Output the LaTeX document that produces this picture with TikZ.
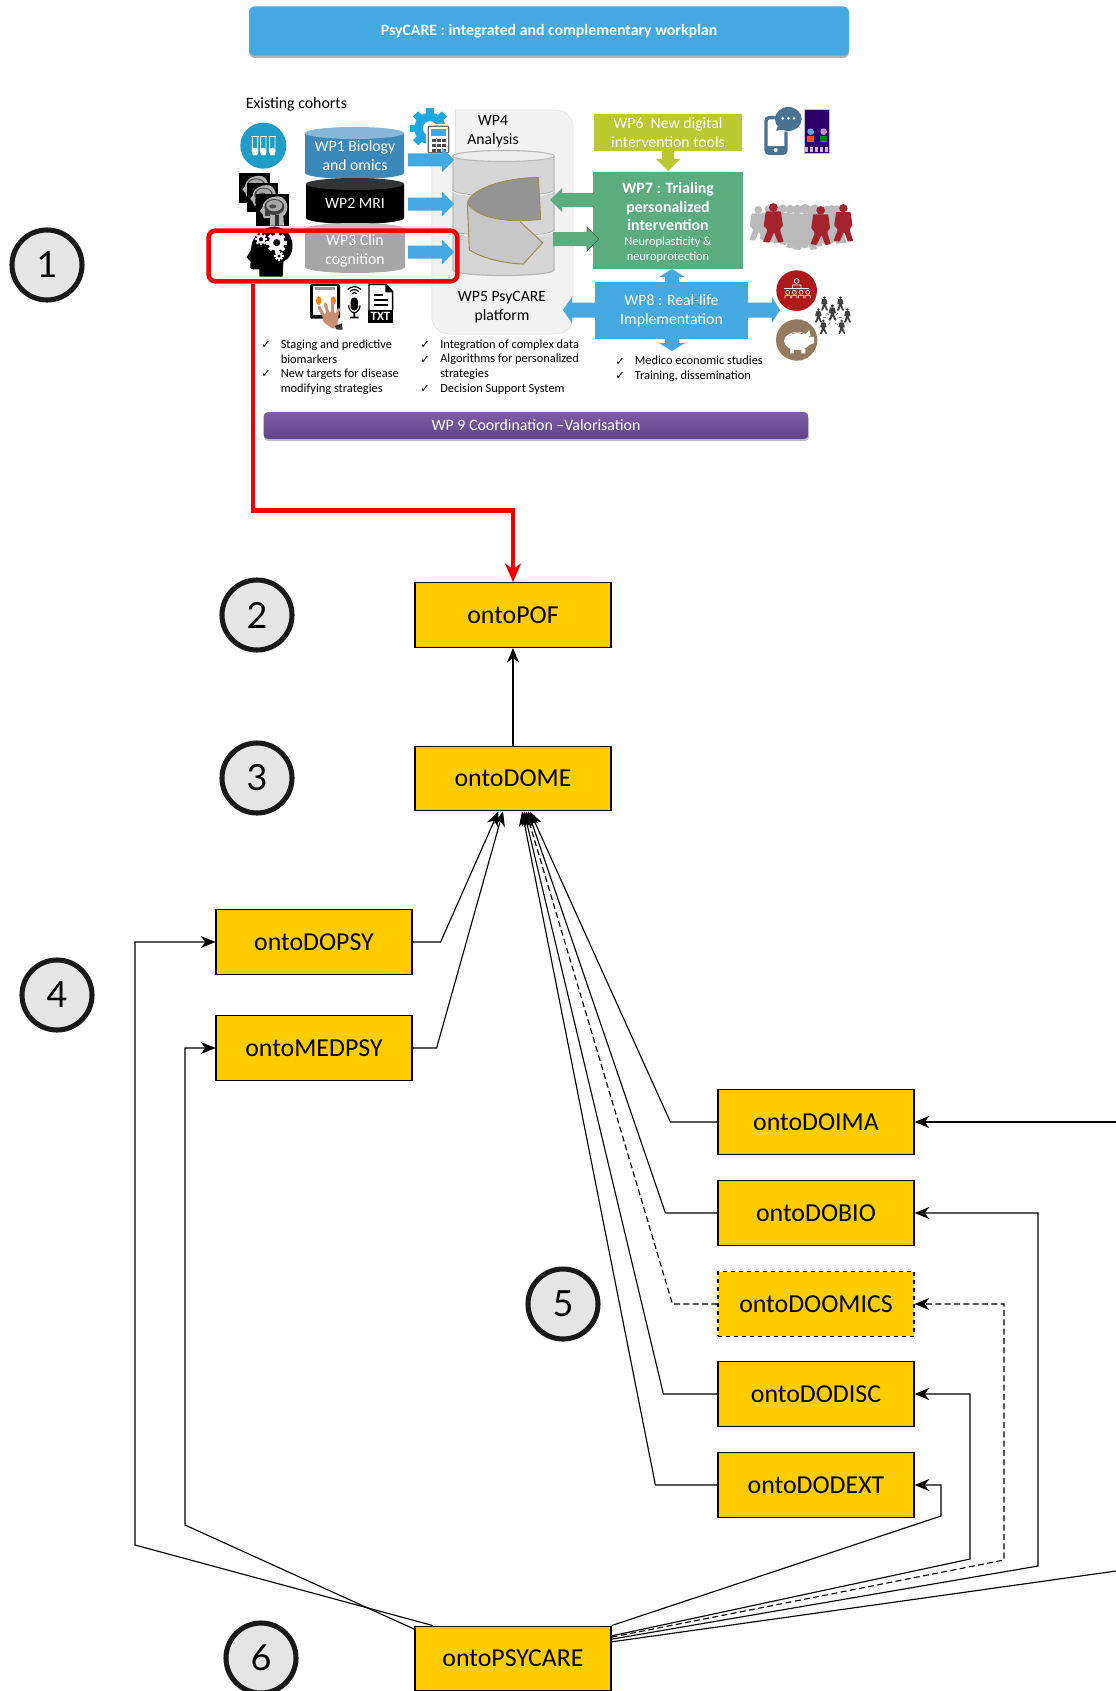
\documentclass[tikz,border=0pt]{standalone}
\usepackage{fontspec}
\setmainfont{Carlito}
\newfontfamily\dejavu{DejaVu Sans}
\newfontfamily\numfont{Lato}
\usetikzlibrary{arrows.meta,calc}
\definecolor{wpblue}{HTML}{43A9E0}
\definecolor{gearblue}{HTML}{1EA7E1}
\definecolor{wpgreen}{HTML}{5BAD80}
\definecolor{wpolive}{HTML}{B9C92F}
\definecolor{ontoyellow}{HTML}{FFCC00}
\definecolor{platgrey}{HTML}{F2F2F2}
\definecolor{olive}{HTML}{9C9155}
\definecolor{iconblue}{HTML}{4A7391}
\definecolor{tubeblue}{HTML}{1E9DC8}
\definecolor{wine}{HTML}{A5222F}
\definecolor{skin}{HTML}{C98F72}
\definecolor{purpletop}{HTML}{7F5CA6}
\definecolor{purplebot}{HTML}{5F4488}
\definecolor{cylbody}{HTML}{3C88BA}
\definecolor{cyltop}{HTML}{85B8D8}
\tikzset{
 ontobox/.style={draw=black,line width=0.9pt,fill=ontoyellow,minimum width=147pt,minimum height=48.5pt,inner sep=0pt,font=\fontsize{19.4}{22}\selectfont},
 link/.style={draw=black,line width=0.85pt,-{Stealth[length=11pt,width=9pt]}},
 dashlink/.style={link,dash pattern=on 4.5pt off 2.5pt},
 circnum/.style={circle,draw=black!90,line width=3.8pt,fill=black!10,minimum size=52.5pt,inner sep=0pt,font=\numfont\fontsize{27}{29}\selectfont},
 cyltext/.style={text=white,align=center,font=\fontsize{11.8}{14.2}\selectfont},
 plain/.style={text=black,align=center,font=\fontsize{11.8}{14.2}\selectfont},
 wptext/.style={text=white,align=center,font=\fontsize{11.8}{14.2}\selectfont},
 bullet/.style={anchor=north west,align=left,inner sep=0pt,font=\fontsize{9.3}{11}\selectfont},
 checkm/.style={anchor=center,inner sep=0pt,font=\dejavu\fontsize{8.5}{10}\selectfont},
 zoomA/.style={shift={(200,80)},scale=1/3},
 zoomB/.style={shift={(560,80)},scale=1/3},
}
\newcommand{\harrow}[7]{\fill[#7] (#1,#2-#5)--(#4,#2-#5)--(#4,#2-#6)--(#3,#2)--(#4,#2+#6)--(#4,#2+#5)--(#1,#2+#5)--cycle;}
\newcommand{\varrow}[7]{\fill[#7] (#1-#5,#2)--(#1-#5,#4)--(#1-#6,#4)--(#1,#3)--(#1+#6,#4)--(#1+#5,#4)--(#1+#5,#2)--cycle;}
\newcommand{\cyl}[7]{\fill[#6] (#1,#3) -- (#1,#4) arc[start angle=180,end angle=0,x radius={(#2-#1)/2},y radius=#5] -- (#2,#3) -- cycle;
 \fill[#7] ({(#1+#2)/2},#3) ellipse[x radius={(#2-#1)/2},y radius=#5];}
\newcommand{\gearicon}[5]{\begin{scope}[shift={(#1,#2)},scale=#3]
 \foreach \a in {0,45,...,315}{\fill[#4,rotate=\a] (-0.24,0.7) rectangle (0.24,1.3);}
 \fill[#4] (0,0) circle[radius=1];
 \fill[#5] (0,0) circle[radius=0.45];\end{scope}}
\newcommand{\person}[4]{\begin{scope}[shift={(#1,#2)},scale=#3/100]
 \fill[#4] (0,-89) circle[radius=9.5];
 \fill[#4,rounded corners=0.5pt] (-14,-79)--(14,-79)--(22,-45)--(16,-42)--(12,-52)--(11,-35)--(26,-2)--(14,0)--(1,-28)--(-10,0)--(-24,-2)--(-10,-35)--(-12,-52)--(-16,-42)--(-22,-45)--cycle;\end{scope}}
\newcommand{\walker}[4]{\begin{scope}[shift={(#1,#2)},scale=#3/100]
 \fill[#4] (0,-88) circle[radius=11];
 \fill[#4,rounded corners=0.6pt] (-19,-78)--(19,-78)--(24,-42)--(18,-36)--(17,-30)--(26,-2)--(12,0)--(2,-26)--(-10,0)--(-26,-2)--(-15,-30)--(-18,-36)--(-24,-42)--cycle;\end{scope}}
\newcommand{\mriicon}[3]{\begin{scope}[shift={(#1,#2)},scale=#3]
 \fill[black] (0,0) rectangle (100,96);
 \fill[black!30] (42,96)--(42,72)--(24,74)--(20,62)--(11,52)--(19,42) .. controls (22,12) and (60,4) .. (76,10) .. controls (100,22) and (98,56) .. (82,66) -- (84,96) -- cycle;
 \fill[black!75] (55,40) ellipse[x radius=30,y radius=24];
 \fill[black!35] (55,36) ellipse[x radius=24,y radius=17];
 \fill[black!70] (50,38) ellipse[x radius=11,y radius=6];
 \fill[black!80] (56,64) rectangle (68,96);
 \fill[black!75] (26,52) rectangle (42,68);\end{scope}}
\begin{document}
\begin{tikzpicture}[x=0.75pt,y=-0.75pt]
\useasboundingbox (0,0) rectangle (1116,1691);
\fill[white] (0,0) rectangle (1116,1691);
% banner
\fill[black!30,rounded corners=4.5pt] (249,8) rectangle (849,58);
\node[fill=wpblue,rounded corners=4.5pt,minimum width=450pt,minimum height=37pt,inner sep=0pt,text=white,font=\bfseries\fontsize{11.85}{13}\selectfont] (banner) at (549,31) {PsyCARE : integrated and complementary workplan};
% platform
\node[fill=platgrey,draw=black!12,rounded corners=13pt,minimum width=106pt,minimum height=168pt,inner sep=0pt] (platform) at (502.5,222) {};
\fill[white] (425,105) rectangle (455,158);
\draw[black!12,line width=0.4pt] (455,110) -- (455,158);
\node[plain] (wp4) at (493,131) {WP4\\Analysis};
\node[plain] (wp5) at (502,307) {WP5 PsyCARE\\platform};
% big cylinder
\cyl{453}{554}{156}{270}{5.5}{black!16}{black!7}
\draw[black!28,line width=0.9pt] (453,156) -- (453,270) arc[start angle=180,end angle=0,x radius=50.5,y radius=5.5] -- (554,156);
\draw[black!28,line width=0.8pt] ({(453+554)/2},156) ellipse[x radius=50.5,y radius=5.5];
\draw[white,line width=0.8pt] (453,191) arc[start angle=180,end angle=0,x radius=50.5,y radius=6];
\draw[black!30,line width=0.6pt] (453,190) arc[start angle=180,end angle=0,x radius=50.5,y radius=6];
\draw[white,line width=0.8pt] (453,231) arc[start angle=180,end angle=0,x radius=50.5,y radius=6];
\draw[black!30,line width=0.6pt] (453,230) arc[start angle=180,end angle=0,x radius=50.5,y radius=6];
% pie
\begin{scope}[zoomA]
\fill[black!22] (802,370) .. controls (840,420) and (930,425) .. (960,425) -- (1028,488) -- (970,552) .. controls (900,550) and (840,530) .. (808,510) -- cycle;
\draw[olive,line width=0.8pt] (802,370) -- (808,510) .. controls (840,530) and (900,550) .. (970,552) -- (1028,488) -- (960,425);
\fill[black!42] (802,370) .. controls (810,330) and (900,295) .. (1015,292) -- (1022,418) .. controls (930,428) and (840,420) .. (802,370) -- cycle;
\draw[olive,line width=0.8pt] (802,370) .. controls (810,330) and (900,295) .. (1015,292) -- (1022,418) .. controls (930,428) and (840,420) .. (802,370) -- cycle;
\end{scope}
% gear + calculator
\begin{scope}[zoomA]
\gearicon{690}{145}{47}{gearblue}{white}
\fill[white] (678,132) rectangle (753,224);
\fill[black!60,rounded corners=1pt] (683,137) rectangle (748,220);
\fill[white] (687,141) rectangle (744,216);
\fill[wpblue] (693,147) rectangle (738,168);
\foreach \u in {697,712,727}{\foreach \v in {178,192,206}{\fill[black!70] (\u,\v) rectangle +(10,9);}}
\end{scope}
% cylinders
\cyl{305}{404}{133}{173}{6}{cylbody}{cyltop}
\cyl{306}{404}{184}{218}{6}{black}{black!80}
\cyl{305}{405}{229}{267}{6}{black!35}{black!25}
\node[cyltext] (wp1) at (355,156) {WP1 Biology\\and omics};
\node[cyltext] (wp2) at (355,203) {WP2 MRI};
\node[cyltext] (wp3) at (355,250.5) {WP3 Clin\\cognition};
% blue inward arrows
\harrow{408}{160}{454}{442}{6.5}{12}{wpblue}
\harrow{408}{204}{454}{442}{6.5}{12}{wpblue}
\harrow{408}{252}{454}{442}{6.5}{12}{wpblue}
\node[anchor=west,inner sep=0pt,font=\fontsize{11.9}{13}\selectfont] (cohorts) at (245.5,104) {Existing cohorts};
% left icons
\begin{scope}[zoomA]
\fill[tubeblue] (190,197) circle[radius=69];
\foreach \u in {165,190,217}{
 \fill[white,rounded corners=2pt] (\u-8,203) -- (\u-8,225) -- (\u+8,225) -- (\u+8,203) -- cycle;
 \draw[white,line width=0.7pt,rounded corners=2pt] (\u-8,170) -- (\u-8,225) -- (\u+8,225) -- (\u+8,170);
 \draw[white,line width=0.8pt] (\u-11,170) -- (\u+11,170);}
\mriicon{117}{280}{0.93}
\mriicon{140}{308}{0.93}
\mriicon{168}{341}{1}
\fill[black] (178,590) -- (178,568) -- (160,568) .. controls (150,566) .. (152,545) -- (140,532) -- (153,510) .. controls (155,450) and (210,440) .. (225,440) .. controls (290,445) and (290,530) .. (250,545) -- (248,590) -- cycle;
\gearicon{183}{478}{14}{white}{black}
\gearicon{230}{488}{24}{white}{black}
\gearicon{237}{528}{11}{white}{black}
% tablet
\fill[black,rounded corners=1pt] (330,612) rectangle (420,716);
\fill[white] (338,618) rectangle (412,705);
\fill[black!40] (345,622) rectangle (405,630);
\fill[orange] (356,662) ellipse[x radius=8,y radius=13];
\fill[orange] (400,662) ellipse[x radius=8,y radius=13];
\fill[skin] (392,716) ellipse[x radius=24,y radius=21];
\draw[skin,line width=2.3pt,line cap=round] (375,715)--(357,682) (385,705)--(376,672) (398,705)--(397,668) (409,712)--(416,688);
\fill[skin] (372,725)--(412,722)--(415,745)--(395,745)--cycle;
\fill[black!80] (405,738)--(425,730)--(428,749)--(410,749)--cycle;
% microphone
\foreach \r in {10,19,28}{\draw[black,line width=0.9pt] (463,648) ++(-135:\r) arc[start angle=-135,end angle=-45,radius=\r];}
\fill[black,rounded corners=3pt] (452,652) rectangle (474,692);
\draw[black,line width=0.9pt] (446,676) arc[start angle=180,end angle=0,x radius=17,y radius=22];
\fill[black] (460,698) rectangle (466,712) (450,710) rectangle (476,715);
% TXT
\draw[black,line width=1.1pt] (507,690) -- (507,613) -- (558,613) -- (578,635) -- (578,690);
\fill[black] (556,613) -- (556,637) -- (578,637) -- cycle;
\draw[black,line width=1.1pt] (522,645) -- (550,645) (522,660) -- (563,660) (522,675) -- (563,675);
\fill[black] (505,690) rectangle (580,728);
\end{scope}
\node[text=white,inner sep=0pt,font=\bfseries\fontsize{9.5}{10}\selectfont] (txt) at (380.5,316) {TXT};
% bullets
\node[checkm] (c1) at (266,345) {✓};
\node[bullet] (b1) at (280.5,339.5) {Staging and predictive\\biomarkers};
\node[checkm] (c2) at (266,374) {✓};
\node[bullet] (b2) at (280.5,369) {New targets for disease\\modifying strategies};
\node[checkm] (c3) at (425,345) {✓};
\node[bullet] (b3) at (440,339.5) {Integration of complex data};
\node[checkm] (c4) at (425,359.5) {✓};
\node[bullet] (b4) at (440,354) {Algorithms for personalized\\strategies};
\node[checkm] (c5) at (425,389) {✓};
\node[bullet] (b5) at (440,384) {Decision Support System};
\node[checkm] (c6) at (620,361.5) {✓};
\node[bullet] (b6) at (634.5,356) {Medico economic studies};
\node[checkm] (c7) at (620,375.5) {✓};
\node[bullet] (b7) at (634.5,370.5) {Training, dissemination};
% WP6
\node[fill=wpolive,minimum width=111pt,minimum height=28pt,inner sep=0pt,wptext] (wp6) at (668,132.5) {WP6\ \ New digital\\intervention tools};
\varrow{668}{151}{171}{159}{6}{12}{wpolive}
% WP7
\node[fill=wpgreen,minimum width=112.5pt,minimum height=73pt,inner sep=0pt] (wp7) at (668,220.5) {};
\node[text=white,align=center,font=\bfseries\fontsize{11.9}{14.2}\selectfont] (wp7t) at (668,206.5) {WP7 : Trialing\\personalized\\intervention};
\node[text=white,align=center,font=\fontsize{9.3}{11}\selectfont] (wp7s) at (668,250) {Neuroplasticity \&\\neuroprotection};
\harrow{593}{200}{550}{562}{7}{12}{wpgreen}
\fill[wpgreen] (553,232) -- (587,232) -- (587,227) -- (599,239) -- (587,251) -- (587,246) -- (553,246) -- cycle;
\draw[black!40!wpgreen,line width=0.4pt] (587,232) -- (587,227) -- (599,239) -- (587,251) -- (587,246);
% WP8
\varrow{672}{285}{269}{277}{7}{13}{wpblue}
\varrow{672}{335}{351}{343}{7}{13}{wpblue}
\harrow{600}{310}{563}{572}{7.5}{13}{wpblue}
\harrow{745}{310}{780}{772}{7.5}{13}{wpblue}
\node[fill=wpblue,minimum width=115pt,minimum height=43pt,inner sep=0pt,wptext] (wp8) at (671.5,310.5) {WP8 : Real-life\\Implementation};
% WP9
\fill[black!25,rounded corners=3pt] (264,415) rectangle (809,441);
\node[top color=purpletop,bottom color=purplebot,rounded corners=3pt,minimum width=408.5pt,minimum height=20pt,inner sep=0pt,text=white,font=\fontsize{11.9}{13}\selectfont] (wp9) at (536,425.5) {WP 9 Coordination –Valorisation};
% right icons
\begin{scope}[zoomB]
\draw[iconblue,line width=2.6pt,rounded corners=2.5pt] (648,113) -- (618,113) -- (618,220) -- (678,220) -- (678,155);
\fill[iconblue] (618,198) rectangle (678,222);
\fill[white] (647,210) circle[radius=6];
\fill[iconblue] (685,117) ellipse[x radius=40,y radius=36];
\fill[iconblue] (655,135) -- (648,152) -- (680,148) -- cycle;
\foreach \u in {668,685,702}{\fill[white] (\u,115) circle[radius=4.5];}
\fill[black!25] (732,87) rectangle (809,223);
\fill[black!55!violet!75!blue] (735,90) rectangle (806,220);
\fill[cyan!60!blue!60!white] (752,155) circle[radius=10];
\fill[orange!60!red] (742,168) rectangle (762,186);
\fill[violet!45!white] (791,155) circle[radius=10];
\fill[green!50!black] (781,168) rectangle (801,186);
\foreach \u in {740,755,770,785,800}{\fill[white!70!violet] (\u-4,202) rectangle (\u+4,216);}
% crowd
\foreach \u/\v/\h in {595/482/105,625/480/105,648/487/112,668/490/118,690/495/122,712/505/132,735/510/140,755/500/125,765/490/118,800/488/112,815/492/118,830/490/115}{\walker{\u}{\v}{\h}{black!27}}
\walker{640}{488}{120}{wine}
\walker{782}{495}{118}{wine}
\walker{850}{485}{114}{wine}
% red circle
\fill[red!65!black!90!white] (710,632) circle[radius=61];
\draw[white,line width=0.5pt] (710,603) circle[radius=7] (697,625) -- (697,615) -- (723,615) -- (723,625);
\draw[white,line width=0.7pt] (672,625) -- (748,625);
\foreach \u in {683,703,723,743}{\draw[white,line width=0.5pt] (\u,637) circle[radius=6] (\u-8,655) -- (\u-8,647) -- (\u+8,647) -- (\u+8,655);}
% piggy
\fill[brown!55!black!80!white!90] (710,780) circle[radius=62];
\fill[white] (712,783) ellipse[x radius=40,y radius=27];
\fill[white] (690,805) rectangle (702,820) (724,805) rectangle (736,820);
\fill[white] (748,772) -- (762,770) -- (762,790) -- (745,795) -- cycle;
\fill[white] (735,765) -- (748,750) -- (752,770) -- cycle;
\draw[brown!55!black!80!white!90,line width=0.5pt] (695,762) .. controls (705,757) and (720,757) .. (730,762);
% network
\person{817}{722}{50}{black!75}
\foreach \u/\v in {793/692,841/692,775/728,862/728,790/762,845/762}{\person{\u}{\v}{44}{black!75}}
\draw[black!70,line width=0.3pt] (800,700)--(808,706) (834,700)--(826,706) (790,712)--(803,714) (846,712)--(832,714) (803,735)--(810,728) (833,735)--(825,728);
\end{scope}
% red outline
\node[draw=red!95!black,line width=3.4pt,rounded corners=5pt,minimum width=186.5pt,minimum height=38pt,inner sep=0pt] (redbox) at (333,256) {};
% ontology boxes
\node[ontobox] (pof) at (513,615) {ontoPOF};
\node[ontobox] (dome) at (513,778.5) {ontoDOME};
\node[ontobox] (dopsy) at (314,942) {ontoDOPSY};
\node[ontobox] (medpsy) at (314,1048) {ontoMEDPSY};
\node[ontobox] (doima) at (816,1122) {ontoDOIMA};
\node[ontobox] (dobio) at (816,1213) {ontoDOBIO};
\node[ontobox,dashed] (doomics) at (816,1304) {ontoDOOMICS};
\node[ontobox] (dodisc) at (816,1394) {ontoDODISC};
\node[ontobox] (dodext) at (816,1485) {ontoDODEXT};
\node[ontobox] (psy) at (513,1658.5) {ontoPSYCARE};
% numbers
\node[circnum] (n1) at (47,265) {1};
\node[circnum] (n2) at (257,615) {2};
\node[circnum] (n3) at (257,778) {3};
\node[circnum] (n4) at (57,995) {4};
\node[circnum] (n5) at (563,1304) {5};
\node[circnum] (n6) at (261,1658) {6};
% red connector
\draw[red!95!black,line width=3.2pt,-{Stealth[length=14pt,width=12pt]}] ([xshift=-60pt]redbox.south) -- ++(0,227) -| (pof.north);
% connectors
\draw[link] (dome.north) -- (pof.south);
\draw[link] (dopsy.east) -- ++(28,0) -- ([xshift=-11pt]dome.south);
\draw[link] (medpsy.east) -- ++(24,0) -- ([xshift=-7.5pt]dome.south);
\draw[link] (doima.west) -- ++(-47,0) -- ([xshift=12.75pt]dome.south);
\draw[link] (dobio.west) -- ++(-52,0) -- ([xshift=11.25pt]dome.south);
\draw[dashlink] (doomics.west) -- ++(-45,0) -- ([xshift=9.75pt]dome.south);
\draw[link] (dodisc.west) -- ++(-54,0) -- ([xshift=8.25pt]dome.south);
\draw[link] (dodext.west) -- ++(-62,0) -- ([xshift=6.75pt]dome.south);
\draw[link] ([xshift=-60pt]psy.north) -- (135,1545) |- (dopsy.west);
\draw[link] ([yshift=22pt]psy.west) -- (185,1525) |- (medpsy.west);
\draw[link] (psy.north east) -- (941,1516) |- (dodext.east);
\draw[link] ([yshift=17pt]psy.east) -- (970,1559) |- (dodisc.east);
\draw[dashlink] ([yshift=16pt]psy.east) -- (1004,1560) |- (doomics.east);
\draw[link] ([yshift=14.5pt]psy.east) -- (1038,1566) |- (dobio.east);
\draw[line width=0.85pt] ([yshift=12.5pt]psy.east) -- (1116,1571);
\coordinate (imaoff) at (1116,1122);
\draw[link] (imaoff) -- (doima.east);
\end{tikzpicture}
\end{document}
